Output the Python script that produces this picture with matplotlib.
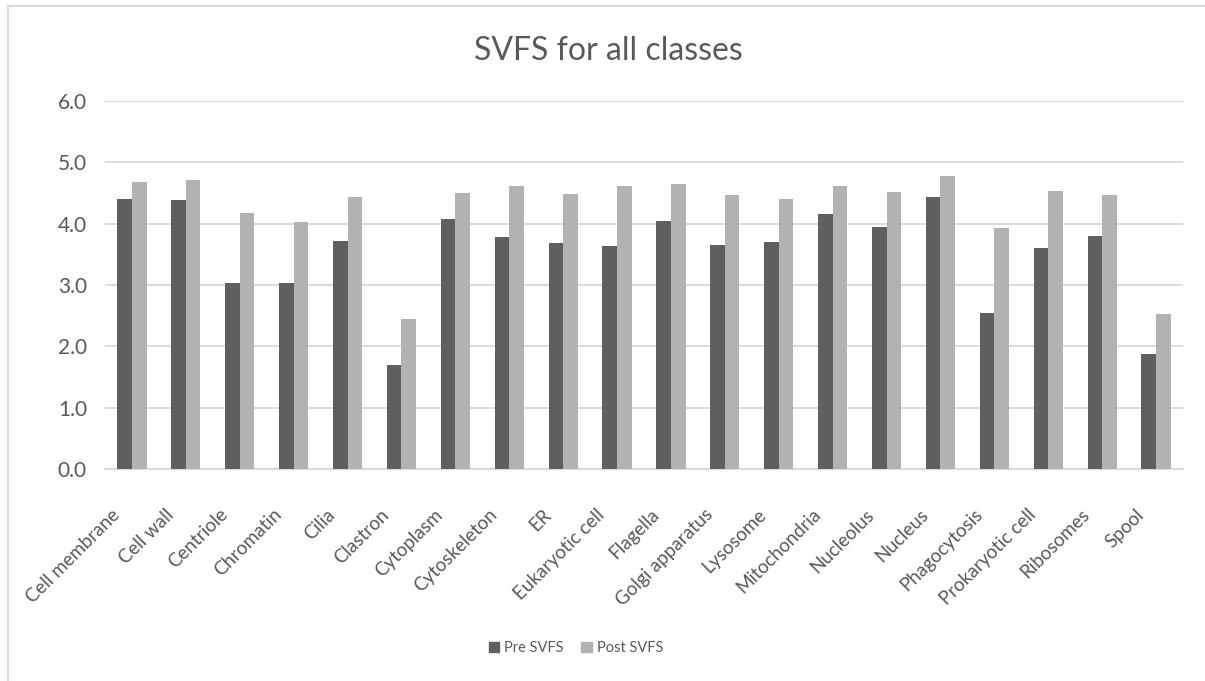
import matplotlib
matplotlib.use("Agg")
import matplotlib.pyplot as plt
import matplotlib.transforms as mtrans
import numpy as np
from matplotlib.lines import Line2D
from matplotlib.patches import Patch

categories = ["Cell membrane", "Cell wall", "Centriole", "Chromatin", "Cilia", "Clastron",
              "Cytoplasm", "Cytoskeleton", "ER", "Eukaryotic cell", "Flagella",
              "Golgi apparatus", "Lysosome", "Mitochondria", "Nucleolus", "Nucleus",
              "Phagocytosis", "Prokaryotic cell", "Ribosomes", "Spool"]
pre_svfs = [4.40, 4.38, 3.03, 3.03, 3.72, 1.70, 4.08, 3.78, 3.68, 3.64, 4.04,
            3.65, 3.70, 4.16, 3.94, 4.43, 2.55, 3.61, 3.80, 1.87]
post_svfs = [4.68, 4.72, 4.17, 4.02, 4.43, 2.44, 4.50, 4.62, 4.48, 4.62, 4.64,
             4.46, 4.40, 4.62, 4.52, 4.78, 3.93, 4.54, 4.46, 2.53]
yticks = [0.0, 1.0, 2.0, 3.0, 4.0, 5.0, 6.0]

plt.rcParams['font.family'] = ['Lato', 'DejaVu Sans']
txt = '#595959'
c_pre = '#5f5f5f'
c_post = '#b2b2b2'

W, H = 1205, 681
fig = plt.figure(figsize=(W/100, H/100), dpi=100)
ax = fig.add_axes([105/W, 1 - 469/H, (1183-105)/W, (469-101)/H])

x = np.arange(len(categories))
bw = 0.27
ax.bar(x - bw/2, pre_svfs, bw, color=c_pre, zorder=3, label='Pre SVFS')
ax.bar(x + bw/2, post_svfs, bw, color=c_post, zorder=3, label='Post SVFS')

ax.set_xlim(-0.5, len(categories) - 0.5)
ax.set_ylim(0, 6)
ax.set_yticks(yticks)
ax.set_yticklabels([f"{v:.1f}" for v in yticks], fontsize=15, color=txt)
ax.yaxis.grid(True, color='#d9d9d9', linewidth=1.3, zorder=0)
ax.tick_params(axis='both', length=0)
ax.tick_params(axis='y', pad=13)
ax.set_xticks(x)
ax.set_xticklabels(categories, rotation=45, ha='right', va='center',
                   rotation_mode='anchor', fontsize=13.5, color=txt)
ax.tick_params(axis='x', pad=20)
offset = mtrans.ScaledTranslation(-0.15, -0.15, fig.dpi_scale_trans)
for lab in ax.get_xticklabels():
    lab.set_transform(lab.get_transform() + offset)
for s in ['top', 'right', 'left']:
    ax.spines[s].set_visible(False)
ax.spines['bottom'].set_color('#d9d9d9')
ax.spines['bottom'].set_linewidth(1.3)

fig.text(608/W, 1 - 51/H, "SVFS for all classes", ha='center', va='center',
         fontsize=23, color=txt)

handles = [Patch(color=c_pre), Patch(color=c_post)]
fig.legend(handles, ['Pre SVFS', 'Post SVFS'], loc='center',
           bbox_to_anchor=(576/W, 1 - 648/H), ncol=2, frameon=False,
           fontsize=10.5, labelcolor=txt, handlelength=0.7, handleheight=0.7,
           handletextpad=0.35, columnspacing=1.2)

# chart area border
fig.add_artist(Line2D([8/W, 8/W], [0, 1 - 6/H], color='#d9d9d9', lw=1.5, transform=fig.transFigure))
fig.add_artist(Line2D([8/W, 1], [1 - 6/H, 1 - 6/H], color='#d9d9d9', lw=1.5, transform=fig.transFigure))

fig.savefig("out.png", dpi=100, facecolor='white')
